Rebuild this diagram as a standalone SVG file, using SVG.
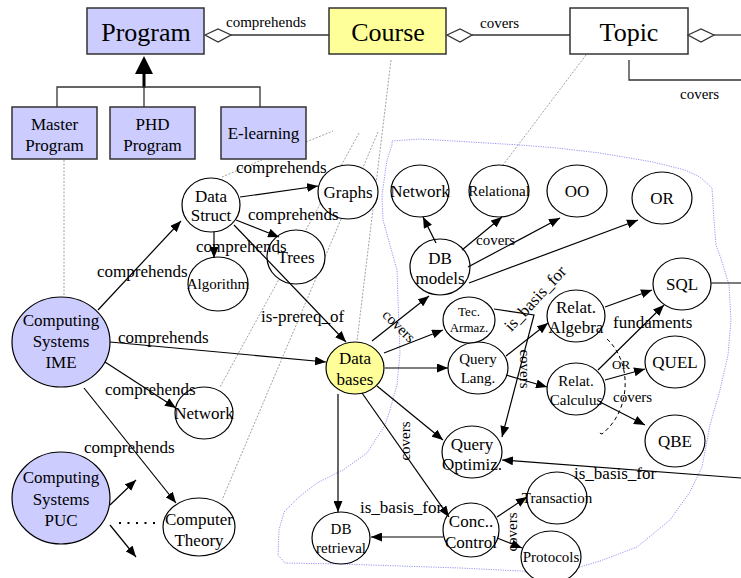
<svg xmlns="http://www.w3.org/2000/svg" width="741" height="578" viewBox="0 0 741 578" font-family="'Liberation Serif', 'Times New Roman', 'DejaVu Serif', serif">
<defs>
<marker id="ah" markerUnits="userSpaceOnUse" markerWidth="11" markerHeight="9" refX="11" refY="4.5" orient="auto">
<path d="M0,0 L11,4.5 L0,9 z" fill="#000"/>
</marker>
<style>
.box{stroke:#333;stroke-width:1.5}
.lav{fill:#ccccff}
.yel{fill:#ffff99}
.wh{fill:#fff}
.el{fill:#fff;stroke:#000;stroke-width:1.2}
.t{text-anchor:middle}
.big{font-size:26px}
.f17{font-size:17px}
.f15{font-size:15px}
.f13{font-size:13px}
.c{fill:none;stroke:#000;stroke-width:1.2;marker-end:url(#ah)}
.ln{fill:none;stroke:#333;stroke-width:1.3}
.gd{fill:none;stroke:#888;stroke-width:0.8;stroke-dasharray:2,1.5}
.bd{fill:none;stroke:#8a8af0;stroke-width:0.9;stroke-dasharray:1.2,1.2}
</style>
</defs>

<!-- background helper lines -->
<g id="guides">
<path class="gd" d="M64,160 L64,296"/>
<path class="gd" d="M306,142 L333,131"/>
<path class="gd" d="M222,177 L262,160"/>
<path class="gd" d="M391,60 L357,341"/>
<path class="gd" d="M359,133 L220,387"/>
<path class="gd" d="M378,132 L222,500"/>
<path class="gd" d="M586,55 L503,165"/>
<path class="bd" d="M392,141 L420,139 L470,142 L520,145 L557,148 L600,153 L653,162 L685,170 L700,177 L712,188 L714,220 L716,245 L722,262 L729,285 L731,320 L728,355 L720,390 L710,425 L702,467 L690,492 L670,520 L637,547 L600,561 L577,568 L540,572 L500,570 L460,568 L400,566 L340,564 L285,563 L278,555 L279,530 L284,512 L300,496 L317,483 L343,470 L367,453 L385,425 L390,410 L397,385 L400,353 L398,300 L397,270 L390,245 L383,220 L382,195 L387,160 L392,145 Z"/>
</g>

<!-- top class diagram -->
<g id="program"><rect class="box lav" x="87" y="8" width="117" height="46"/><text class="t big" x="146" y="41">Program</text></g>
<g id="course"><rect class="box yel" x="329" y="8" width="117" height="46"/><text class="t big" x="388" y="41">Course</text></g>
<g id="topic"><rect class="box wh" x="570" y="8" width="118" height="46"/><text class="t big" x="629" y="41">Topic</text></g>
<g id="master"><rect class="box lav" x="12" y="107" width="85" height="52"/><text class="t f17" x="54.5" y="130">Master</text><text class="t f17" x="54.5" y="151">Program</text></g>
<g id="phd"><rect class="box lav" x="110" y="107" width="85" height="52"/><text class="t f17" x="152.5" y="130">PHD</text><text class="t f17" x="152.5" y="151">Program</text></g>
<g id="elearning"><rect class="box lav" x="221" y="107" width="85" height="52"/><text class="t f17" x="263.5" y="139">E-learning</text></g>

<g id="uml-links">
<path class="ln" d="M231,35 L329,35"/>
<polygon points="205,35 218,29 231,35 218,42" fill="#fff" stroke="#333" stroke-width="1.3"/>
<text class="f15" x="226" y="27">comprehends</text>
<path class="ln" d="M472,35 L570,35"/>
<polygon points="447,35 460,29 472,35 460,42" fill="#fff" stroke="#333" stroke-width="1.3"/>
<text class="f15" x="480" y="28">covers</text>
<path class="ln" d="M714,35 L741,35"/>
<polygon points="688,35 701,29 714,35 701,42" fill="#fff" stroke="#333" stroke-width="1.3"/>
<path class="ln" d="M629,60 L629,80 L741,80"/>
<text class="f15" x="680" y="99">covers</text>
<polygon points="144,56 135,74 153,74" fill="#000"/>
<path d="M144,74 L144,88" stroke="#000" stroke-width="3"/>
<path class="ln" d="M144,87 L144,107 M57,107 L57,87 L260,87 L260,107"/>
</g>

<!-- concept map nodes -->
<g id="cs-ime"><ellipse cx="61" cy="342" rx="49" ry="45" fill="#ccccff" stroke="#000" stroke-width="1.2"/><text class="t f17" x="61" y="326">Computing</text><text class="t f17" x="61" y="347">Systems</text><text class="t f17" x="61" y="368">IME</text></g>
<g id="cs-puc"><ellipse cx="61" cy="498" rx="49" ry="46" fill="#ccccff" stroke="#000" stroke-width="1.2"/><text class="t f17" x="61" y="483">Computing</text><text class="t f17" x="61" y="505">Systems</text><text class="t f17" x="61" y="526">PUC</text></g>
<g id="data-struct"><ellipse class="el" cx="211" cy="205" rx="29" ry="27"/><text class="t f17" x="211" y="202">Data</text><text class="t f17" x="211" y="221">Struct</text></g>
<g id="graphs"><ellipse class="el" cx="348" cy="192" rx="30" ry="27"/><text class="t f17" x="348" y="198">Graphs</text></g>
<g id="trees"><ellipse class="el" cx="296" cy="257" rx="29" ry="27"/><text class="t f17" x="296" y="263">Trees</text></g>
<g id="algorithm"><ellipse class="el" cx="218" cy="284" rx="30" ry="27"/><text class="t f15" x="218" y="289">Algorithm</text></g>
<g id="network-l"><ellipse class="el" cx="204" cy="413" rx="29" ry="26"/><text class="t f17" x="204" y="419">Network</text></g>
<g id="computer-theory"><ellipse class="el" cx="199" cy="527" rx="36" ry="29"/><text class="t f17" x="199" y="525">Computer</text><text class="t f17" x="199" y="546">Theory</text></g>
<g id="databases"><ellipse cx="355" cy="368" rx="29" ry="26" fill="#ffff99" stroke="#000" stroke-width="1.2"/><text class="t f17" x="355" y="364">Data</text><text class="t f17" x="355" y="385">bases</text></g>
<g id="db-retrieval"><ellipse class="el" cx="341" cy="538" rx="29" ry="26"/><text class="t f15" x="341" y="534">DB</text><text class="t f15" x="341" y="553">retrieval</text></g>
<g id="conc-control"><ellipse class="el" cx="471" cy="530" rx="28" ry="27"/><text class="t f17" x="471" y="527">Conc..</text><text class="t f17" x="471" y="548">Control</text></g>
<g id="transaction"><ellipse class="el" cx="557" cy="498" rx="30" ry="26"/><text class="t f15" x="557" y="503">Transaction</text></g>
<g id="protocols"><ellipse class="el" cx="551" cy="557" rx="30" ry="26"/><text class="t f15" x="551" y="562">Protocols</text></g>
<g id="query-optimiz"><ellipse class="el" cx="472" cy="452" rx="30" ry="26"/><text class="t f17" x="472" y="450">Query</text><text class="t f17" x="472" y="470">Optimiz.</text></g>
<g id="query-lang"><ellipse class="el" cx="478" cy="368" rx="30" ry="26"/><text class="t f15" x="478" y="364">Query</text><text class="t f15" x="478" y="383">Lang.</text></g>
<g id="tec-armaz"><ellipse class="el" cx="469" cy="320" rx="26" ry="23"/><text class="t f13" x="469" y="316">Tec.</text><text class="t f13" x="469" y="332">Armaz.</text></g>
<g id="db-models"><ellipse class="el" cx="440" cy="267" rx="30" ry="28"/><text class="t f17" x="440" y="264">DB</text><text class="t f17" x="440" y="284">models</text></g>
<g id="network-r"><ellipse class="el" cx="420" cy="191" rx="29" ry="26"/><text class="t f17" x="420" y="197">Network</text></g>
<g id="relational"><ellipse class="el" cx="499" cy="191" rx="30" ry="26"/><text class="t f15" x="499" y="196">Relational</text></g>
<g id="oo"><ellipse class="el" cx="577" cy="191" rx="30" ry="26"/><text class="t f17" x="577" y="197">OO</text></g>
<g id="or"><ellipse class="el" cx="662" cy="198" rx="30" ry="26"/><text class="t f17" x="662" y="204">OR</text></g>
<g id="sql"><ellipse class="el" cx="682" cy="284" rx="29" ry="26"/><text class="t f17" x="682" y="290">SQL</text></g>
<g id="quel"><ellipse class="el" cx="675" cy="362" rx="30" ry="26"/><text class="t f17" x="675" y="368">QUEL</text></g>
<g id="qbe"><ellipse class="el" cx="675" cy="441" rx="30" ry="26"/><text class="t f17" x="675" y="447">QBE</text></g>
<g id="relat-algebra"><ellipse class="el" cx="576" cy="316" rx="29" ry="26"/><text class="t f17" x="576" y="313">Relat.</text><text class="t f17" x="576" y="333">Algebra</text></g>
<g id="relat-calculus"><ellipse class="el" cx="576" cy="389" rx="29" ry="26"/><text class="t f15" x="576" y="386">Relat.</text><text class="t f15" x="576" y="405">Calculus</text></g>

<!-- connectors -->
<g id="connectors">
<path class="c" d="M98,310 L181,221"/>
<path class="c" d="M110,342 L326,362"/>
<path class="c" d="M105,362 L176,408"/>
<path class="c" d="M84,388 L176,503"/>
<path class="c" d="M110,505 L136,480"/>
<path class="c" d="M110,525 L136,557"/>
<path d="M119,523 L156,523" stroke="#000" stroke-width="2" stroke-dasharray="2,6.5"/>
<path class="c" d="M240,197 L318,186"/>
<path class="c" d="M236,220 L279,237"/>
<path class="c" d="M214,232 L214,258"/>
<path class="c" d="M234,225 L346,342"/>
<path class="c" d="M372,341 L429,296"/>
<path class="c" d="M384,353 L443,330"/>
<path class="c" d="M385,368 L448,368"/>
<path class="c" d="M377,386 L443,440"/>
<path class="c" d="M362,393 L449,517"/>
<path class="c" d="M338,394 L338,512"/>
<path class="c" d="M443,537 L371,537"/>
<path class="c" d="M497,517 L527,497"/>
<path class="c" d="M497,538 L522,548"/>
<path class="c" d="M741,478 L502,460"/>
<path class="c" d="M494,309 L534,315 L502,437"/>
<path class="c" d="M506,356 L548,323"/>
<path class="c" d="M506,375 L547,387"/>
<path class="c" d="M605,307 L652,290"/>
<path class="c" d="M598,370 L664,305"/>
<path class="c" d="M605,380 L645,369"/>
<path class="c" d="M600,402 L645,425"/>
<path class="c" d="M436,243 L423,217"/>
<path class="c" d="M462,250 L502,217"/>
<path class="c" d="M468,267 L560,218"/>
<path class="c" d="M469,283 L638,220"/>
<path class="ln" d="M711,283 L741,283"/>
<path d="M607,339 C632,362 632,410 602,434 L597,432" fill="none" stroke="#000" stroke-width="1" stroke-dasharray="4,3"/>
</g>

<g id="labels">
<text class="f17" x="236" y="173">comprehends</text>
<text class="f17" x="248" y="220">comprehends</text>
<text class="f17" x="196" y="252">comprehends</text>
<text class="f17" x="97" y="277">comprehends</text>
<text class="f17" x="118" y="343">comprehends</text>
<text class="f17" x="105" y="395">comprehends</text>
<text class="f17" x="84" y="453">comprehends</text>
<text class="f17" x="261" y="322">is-prereq_of</text>
<text class="f17" x="360" y="513">is_basis_for</text>
<text class="f17" x="574" y="479">is_basis_for</text>
<text class="f17" x="613" y="328">fundaments</text>
<text class="f13" x="612" y="369">OR</text>
<text class="f15" x="613" y="402">covers</text>
<text class="f15" x="476" y="245">covers</text>
<text class="f15 t" x="399" y="331" transform="rotate(45 399 326)">covers</text>
<text class="f17 t" x="535" y="304" transform="rotate(-47 535 298)">is_basis_for</text>
<text class="f15 t" x="525" y="374" transform="rotate(90 525 369)">covers</text>
<text class="f15 t" x="405" y="446" transform="rotate(-90 405 441)">covers</text>
<text class="f15 t" x="512" y="537" transform="rotate(-90 512 532)">covers</text>
</g>
</svg>
